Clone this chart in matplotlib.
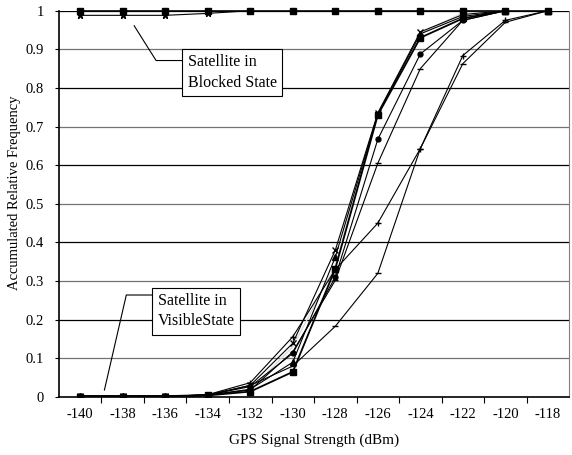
import numpy as np
import matplotlib.pyplot as plt

plt.rcParams['font.family'] = ['Liberation Serif', 'DejaVu Serif']

# GPS signal strength categories (dBm)
strength = [-140, -138, -136, -134, -132, -130, -128, -126, -124, -122, -120, -118]

# satellites in blocked state
blocked_a = [1.0, 1.0, 1.0, 1.0, 1.0, 1.0, 1.0, 1.0, 1.0, 1.0, 1.0, 1.0]
blocked_b = [0.988, 0.988, 0.988, 0.993, 1.0, 1.0, 1.0, 1.0, 1.0, 1.0, 1.0, 1.0]

# satellites in visible state
vis_x = [0.002, 0.002, 0.002, 0.005, 0.030, 0.139, 0.380, 0.735, 0.945, 0.990, 1.0, 1.0]
vis_tri = [0.002, 0.002, 0.002, 0.005, 0.020, 0.090, 0.362, 0.733, 0.940, 0.985, 1.0, 1.0]
vis_sq = [0.0, 0.0, 0.0, 0.004, 0.014, 0.065, 0.332, 0.730, 0.930, 0.980, 1.0, 1.0]
vis_dia = [0.002, 0.002, 0.002, 0.005, 0.027, 0.113, 0.310, 0.667, 0.888, 0.975, 1.0, 1.0]
vis_dash = [0.002, 0.002, 0.002, 0.005, 0.018, 0.117, 0.302, 0.605, 0.850, 0.975, 1.0, 1.0]
vis_plus = [0.003, 0.003, 0.003, 0.006, 0.037, 0.156, 0.330, 0.450, 0.643, 0.884, 0.975, 1.0]
vis_low = [0.002, 0.002, 0.002, 0.005, 0.030, 0.080, 0.183, 0.320, 0.643, 0.863, 0.970, 1.0]
vis_grey = [0.002, 0.002, 0.002, 0.004, 0.018, 0.130, 0.340, 0.735, 0.940, 0.995, 1.0, 1.0]

yticks = [0, 0.1, 0.2, 0.3, 0.4, 0.5, 0.6, 0.7, 0.8, 0.9, 1]

fig = plt.figure(figsize=(5.72, 4.55), dpi=100)
ax = fig.add_axes([0.103, 0.1275, 0.892, 0.849])

# gridlines, alternating shade like the original export
for i, t in enumerate(yticks[1:]):
    ax.axhline(t, color='0.0' if i % 2 == 1 else '0.45', lw=0.9, zorder=1)

x = np.array(strength)
ax.plot(x, vis_grey, color='0.85', lw=0.9, zorder=2)
ax.plot(x, vis_low, color='k', lw=0.8, marker='_', ms=4, zorder=3)
ax.plot(x, vis_plus, color='k', lw=0.8, marker='+', ms=5, zorder=3)
ax.plot(x, vis_dash, color='k', lw=0.8, marker='_', ms=5, zorder=3)
ax.plot(x, vis_dia, color='k', lw=0.8, marker='o', ms=3.5, zorder=3)
ax.plot(x, vis_sq, color='k', lw=1.3, marker='s', ms=4, zorder=3)
ax.plot(x, vis_tri, color='k', lw=0.8, marker='^', ms=4, zorder=3)
ax.plot(x, vis_x, color='k', lw=0.8, marker='x', ms=4, zorder=3)
ax.plot(x, blocked_b, color='k', lw=0.8, marker='*', ms=5, zorder=3)
ax.plot(x, blocked_a, color='k', lw=1.2, marker='s', ms=4, zorder=3, clip_on=False)

ax.set_xlim(-141, -117)
ax.set_ylim(0, 1)
ax.set_xticks(strength)
ax.set_xticklabels([str(s) for s in strength])
ax.set_xticks(np.arange(-139, -117, 2), minor=True)
ax.tick_params(axis='x', which='major', length=0, pad=8, labelsize=10.5)
ax.tick_params(axis='x', which='minor', length=4, direction='out', width=0.8)
ax.set_yticks(yticks)
ax.set_yticklabels(['0', '0.1', '0.2', '0.3', '0.4', '0.5', '0.6', '0.7', '0.8', '0.9', '1'])
ax.tick_params(axis='y', length=3, direction='out', labelsize=10.5, pad=8)

ax.spines['top'].set_visible(False)
ax.spines['right'].set_color('0.5')
ax.spines['left'].set_linewidth(1.2)
ax.spines['bottom'].set_linewidth(1.2)

ax.set_xlabel('GPS Signal Strength (dBm)', fontsize=11, labelpad=9)
ax.set_ylabel('Accumulated Relative Frequency', fontsize=10.5)
ax.yaxis.set_label_coords(-0.074, 0.53)

# callouts
ax.plot([-135.13, -136.43, -137.46], [0.871, 0.871, 0.961], color='k', lw=0.8, zorder=4)
ax.text(-134.95, 0.84, 'Satellite in\nBlocked State', fontsize=11.5, va='center', ha='left',
        linespacing=1.35, zorder=5,
        bbox=dict(boxstyle='square,pad=0.35', fc='white', ec='k', lw=0.8))

ax.plot([-136.53, -137.83, -138.86], [0.264, 0.264, 0.018], color='k', lw=0.8, zorder=4)
ax.text(-136.35, 0.222, 'Satellite in\nVisibleState', fontsize=11.5, va='center', ha='left',
        linespacing=1.35, zorder=5,
        bbox=dict(boxstyle='square,pad=0.35', fc='white', ec='k', lw=0.8))

fig.savefig('out.png', dpi=100)
